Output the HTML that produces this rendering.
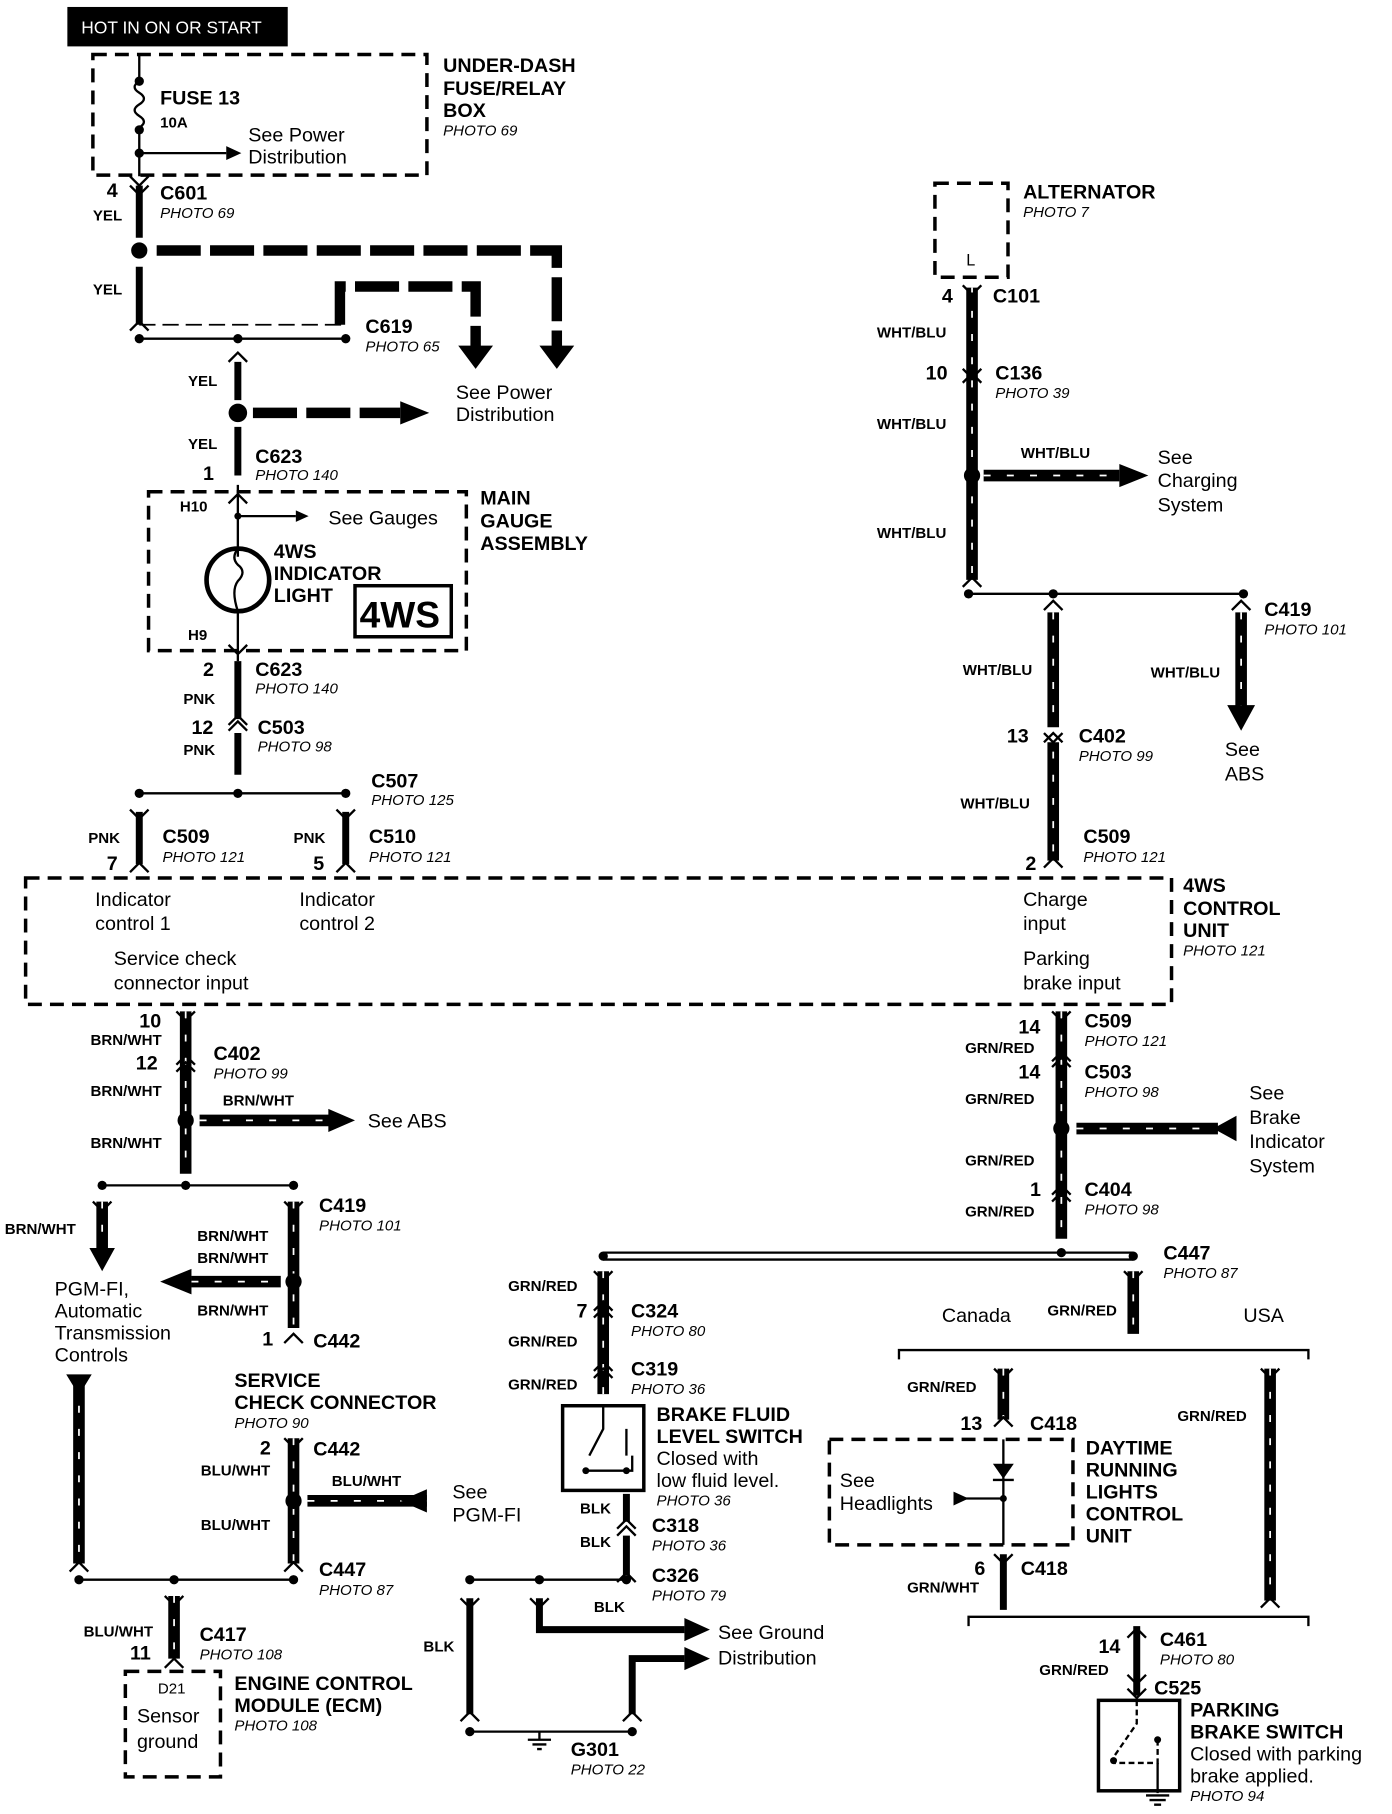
<!DOCTYPE html>
<html><head><meta charset="utf-8"><style>
html,body{margin:0;padding:0;background:#fff}
svg{display:block}
text{font-family:"Liberation Sans",Arial,sans-serif;fill:#000}
.b{font-weight:bold;font-size:17px}
.s{font-weight:bold;font-size:13px}
.p{font-style:italic;font-size:13px}
.n{font-size:17px}
.w{stroke:#000;stroke-width:6;fill:none}
.t{stroke:#000;stroke-width:2;fill:none}
.d{stroke:#000;stroke-width:3;fill:none;stroke-dasharray:12 7}
.dw{stroke:#000;stroke-width:9;fill:none;stroke-dasharray:38 8}
.sh{stroke:#000;stroke-width:10;fill:none}
.hs{stroke:#fff;stroke-width:1.5;fill:none;stroke-dasharray:6 14}
</style></head><body>
<svg width="1392" height="1814" viewBox="0 0 1200 1564" xmlns="http://www.w3.org/2000/svg">
<rect x="58" y="6" width="190" height="34" fill="#000"/>
<text x="70" y="29" style="font-size:15px;fill:#fff">HOT IN ON OR START</text>
<rect x="80" y="47" width="288" height="104" class="d"/>
<path class="t" d="M120 47V70 q-8 5 0 10 q8 5 0 10 q-8 5 0 10 q8 5 0 10V152"/>
<circle cx="120" cy="70" r="4"/><circle cx="120" cy="112" r="4"/><circle cx="120" cy="132" r="4"/>
<path d="M120 132H195" class="t"/><path d="M195 126L208 132L195 138z"/>
<text x="138" y="90" class="b">FUSE 13</text><text x="138" y="110" class="s">10A</text>
<text x="214" y="122" class="n">See Power</text><text x="214" y="141" class="n">Distribution</text>
<text x="382" y="62" class="b">UNDER-DASH</text><text x="382" y="82" class="b">FUSE/RELAY</text><text x="382" y="101" class="b">BOX</text><text x="382" y="117" class="p">PHOTO 69</text>
<path class="w" d="M120 160V205M120 230V280"/>
<path class="t" d="M112 160L120 168L128 160M112 152L120 160L128 152"/>
<circle cx="120" cy="216" r="7"/>
<path class="dw" d="M135 216H480V300M293 280V247H410V300"/>
<path d="M395 298H425L410 318z M465 298H495L480 318z"/>
<path class="t" d="M112 285L120 277L128 285" />
<path d="M120 280H295" stroke="#000" stroke-width="1.5" stroke-dasharray="14 6"/>
<path class="t" d="M120 292H298"/><circle cx="120" cy="292" r="4"/><circle cx="205" cy="292" r="4"/><circle cx="298" cy="292" r="4"/>
<text x="92" y="170" class="b">4</text><text x="80" y="190" class="s">YEL</text>
<text x="138" y="172" class="b">C601</text><text x="138" y="188" class="p">PHOTO 69</text>
<text x="80" y="254" class="s">YEL</text>
<text x="315" y="287" class="b">C619</text><text x="315" y="303" class="p">PHOTO 65</text>
<path class="w" d="M205 312V345M205 368V410"/><path class="t" d="M197 312L205 304L213 312"/>
<circle cx="205" cy="356" r="8"/>
<path class="dw" d="M218 356H345"/><path d="M345 346L370 356L345 366z"/>
<text x="393" y="344" class="n">See Power</text><text x="393" y="363" class="n">Distribution</text>
<text x="162" y="333" class="s">YEL</text><text x="162" y="387" class="s">YEL</text>
<text x="175" y="414" class="b">1</text><text x="220" y="399" class="b">C623</text><text x="220" y="414" class="p">PHOTO 140</text>
<rect x="128" y="424" width="274" height="137" class="d"/>
<path class="t" d="M205 418V480M205 528V570M197 434L205 426L213 434M197 556L205 564L213 556"/>
<circle cx="205" cy="500" r="27" stroke="#000" stroke-width="4" fill="none"/>
<path class="t" d="M205 473q-6 8 0 14q8 6 0 14q-6 8 0 26"/>
<circle cx="205" cy="445" r="3"/><path class="t" d="M205 445H255"/><path d="M255 440L266 445L255 450z"/>
<text x="155" y="441" class="s">H10</text><text x="162" y="552" class="s">H9</text>
<text x="283" y="452" class="n">See Gauges</text>
<text x="236" y="481" class="b">4WS</text><text x="236" y="500" class="b">INDICATOR</text><text x="236" y="519" class="b">LIGHT</text>
<rect x="306" y="505" width="83" height="44" stroke="#000" stroke-width="3" fill="none"/>
<text x="310" y="541" style="font-size:32px;font-weight:bold">4WS</text>
<text x="414" y="435" class="b">MAIN</text><text x="414" y="455" class="b">GAUGE</text><text x="414" y="474" class="b">ASSEMBLY</text>
<path class="w" d="M205 570V620M205 632V668"/><path class="t" d="M197 625L205 617L213 625M197 630L205 622L213 630"/>
<text x="175" y="583" class="b">2</text><text x="220" y="583" class="b">C623</text><text x="220" y="598" class="p">PHOTO 140</text>
<text x="158" y="607" class="s">PNK</text>
<text x="165" y="633" class="b">12</text><text x="222" y="633" class="b">C503</text><text x="222" y="648" class="p">PHOTO 98</text>
<text x="158" y="651" class="s">PNK</text>
<path class="t" d="M120 684H298"/><circle cx="120" cy="684" r="4"/><circle cx="205" cy="684" r="4"/><circle cx="298" cy="684" r="4"/>
<path class="w" d="M120 700V745M298 700V745"/>
<path class="t" d="M112 698L120 706L128 698M290 698L298 706L306 698M112 752L120 744L128 752M290 752L298 744L306 752"/>
<text x="320" y="679" class="b">C507</text><text x="320" y="694" class="p">PHOTO 125</text>
<text x="76" y="727" class="s">PNK</text><text x="92" y="750" class="b">7</text>
<text x="140" y="727" class="b">C509</text><text x="140" y="743" class="p">PHOTO 121</text>
<text x="253" y="727" class="s">PNK</text><text x="270" y="750" class="b">5</text>
<text x="318" y="727" class="b">C510</text><text x="318" y="743" class="p">PHOTO 121</text>
<rect x="22" y="757" width="988" height="109" class="d"/>
<text x="82" y="781" class="n">Indicator</text><text x="82" y="802" class="n">control 1</text>
<text x="258" y="781" class="n">Indicator</text><text x="258" y="802" class="n">control 2</text>
<text x="98" y="832" class="n">Service check</text><text x="98" y="853" class="n">connector input</text>
<text x="882" y="781" class="n">Charge</text><text x="882" y="802" class="n">input</text>
<text x="882" y="832" class="n">Parking</text><text x="882" y="853" class="n">brake input</text>
<text x="1020" y="769" class="b">4WS</text><text x="1020" y="789" class="b">CONTROL</text><text x="1020" y="808" class="b">UNIT</text><text x="1020" y="824" class="p">PHOTO 121</text>
<rect x="806" y="158" width="63" height="81" class="d"/>
<text x="833" y="229" style="font-size:14px">L</text>
<text x="882" y="171" class="b">ALTERNATOR</text><text x="882" y="187" class="p">PHOTO 7</text>
<path class="sh" d="M838 248V500"/><path class="hs" d="M838 248V500"/>
<path class="t" d="M830 246L838 254L846 246M830 318L838 326L846 318M830 330L838 322L846 330M830 506L838 498L846 506"/>
<text x="812" y="261" class="b">4</text><text x="856" y="261" class="b">C101</text>
<text x="756" y="291" class="s">WHT/BLU</text>
<text x="798" y="327" class="b">10</text><text x="858" y="327" class="b">C136</text><text x="858" y="343" class="p">PHOTO 39</text>
<text x="756" y="370" class="s">WHT/BLU</text>
<circle cx="838" cy="410" r="7"/>
<path class="sh" d="M848 410H965"/><path class="hs" d="M848 410H965"/><path d="M965 400L990 410L965 420z"/>
<text x="880" y="395" class="s">WHT/BLU</text>
<text x="998" y="400" class="n">See</text><text x="998" y="420" class="n">Charging</text><text x="998" y="441" class="n">System</text>
<text x="756" y="464" class="s">WHT/BLU</text>
<path class="t" d="M835 512H1073"/><circle cx="835" cy="512" r="4"/><circle cx="908" cy="512" r="4"/><circle cx="1072" cy="512" r="4"/>
<path class="sh" d="M908 528V627M908 640V742M1070 528V610"/><path class="hs" d="M908 528V742M1070 528V610"/>
<path class="t" d="M900 526L908 518L916 526M1062 526L1070 518L1078 526M900 632L908 640L916 632M900 640L908 632L916 640M900 748L908 740L916 748"/>
<path d="M1058 608H1082L1070 630z"/>
<text x="1090" y="531" class="b">C419</text><text x="1090" y="547" class="p">PHOTO 101</text>
<text x="830" y="582" class="s">WHT/BLU</text><text x="992" y="584" class="s">WHT/BLU</text>
<text x="1056" y="652" class="n">See</text><text x="1056" y="673" class="n">ABS</text>
<text x="868" y="640" class="b">13</text><text x="930" y="640" class="b">C402</text><text x="930" y="656" class="p">PHOTO 99</text>
<text x="828" y="697" class="s">WHT/BLU</text>
<text x="884" y="750" class="b">2</text><text x="934" y="727" class="b">C509</text><text x="934" y="743" class="p">PHOTO 121</text>
<path class="sh" d="M160 872V1012"/><path class="hs" d="M160 872V1012"/>
<path class="t" d="M152 872L160 880L168 872M152 918L160 910L168 918M152 924L160 916L168 924"/>
<text x="120" y="886" class="b">10</text><text x="78" y="901" class="s">BRN/WHT</text>
<text x="117" y="922" class="b">12</text><text x="184" y="914" class="b">C402</text><text x="184" y="930" class="p">PHOTO 99</text>
<text x="78" y="945" class="s">BRN/WHT</text>
<circle cx="160" cy="966" r="7"/>
<path class="sh" d="M172 966H285"/><path class="hs" d="M172 966H285"/><path d="M283 956L306 966L283 976z"/>
<text x="192" y="953" class="s">BRN/WHT</text><text x="317" y="972" class="n">See ABS</text>
<text x="78" y="990" class="s">BRN/WHT</text>
<path class="t" d="M88 1022H253"/><circle cx="88" cy="1022" r="4"/><circle cx="160" cy="1022" r="4"/><circle cx="253" cy="1022" r="4"/>
<path class="sh" d="M88 1036V1078M253 1036V1145M253 1240V1348M68 1192V1348"/><path class="hs" d="M88 1036V1078M253 1036V1145M253 1240V1348M68 1192V1348"/>
<path d="M77 1076H99L88 1096z M57 1185H79L68 1203z"/>
<path class="t" d="M80 1036L88 1044L96 1036M245 1036L253 1044L261 1036M245 1158L253 1150L261 1158M245 1240L253 1248L261 1240M245 1355L253 1347L261 1355M60 1355L68 1347L76 1355"/>
<text x="4" y="1064" class="s">BRN/WHT</text>
<text x="275" y="1045" class="b">C419</text><text x="275" y="1061" class="p">PHOTO 101</text>
<text x="170" y="1070" class="s">BRN/WHT</text><text x="170" y="1089" class="s">BRN/WHT</text><text x="170" y="1134" class="s">BRN/WHT</text>
<circle cx="253" cy="1105" r="7"/>
<path class="sh" d="M165 1105H242"/><path class="hs" d="M165 1105H242"/><path d="M165 1094L138 1105L165 1116z"/>
<text x="47" y="1117" class="n">PGM-FI,</text><text x="47" y="1136" class="n">Automatic</text><text x="47" y="1155" class="n">Transmission</text><text x="47" y="1174" class="n">Controls</text>
<text x="226" y="1160" class="b">1</text><text x="270" y="1162" class="b">C442</text>
<text x="202" y="1196" class="b">SERVICE</text><text x="202" y="1215" class="b">CHECK CONNECTOR</text><text x="202" y="1231" class="p">PHOTO 90</text>
<text x="224" y="1254" class="b">2</text><text x="270" y="1255" class="b">C442</text>
<text x="173" y="1272" class="s">BLU/WHT</text>
<circle cx="253" cy="1294" r="7"/>
<path class="sh" d="M265 1294H368"/><path class="hs" d="M265 1294H368"/><path d="M368 1284L345 1294L368 1304z" fill="#000"/>
<text x="286" y="1281" class="s">BLU/WHT</text>
<text x="390" y="1292" class="n">See</text><text x="390" y="1312" class="n">PGM-FI</text>
<text x="173" y="1319" class="s">BLU/WHT</text>
<path class="t" d="M68 1362H253"/><circle cx="68" cy="1362" r="4"/><circle cx="150" cy="1362" r="4"/><circle cx="253" cy="1362" r="4"/>
<text x="275" y="1359" class="b">C447</text><text x="275" y="1375" class="p">PHOTO 87</text>
<path class="sh" d="M150 1376V1430"/><path class="hs" d="M150 1376V1430"/>
<path class="t" d="M142 1376L150 1384L158 1376M142 1438L150 1430L158 1438"/>
<text x="72" y="1411" class="s">BLU/WHT</text><text x="112" y="1431" class="b">11</text>
<text x="172" y="1415" class="b">C417</text><text x="172" y="1431" class="p">PHOTO 108</text>
<rect x="108" y="1441" width="82" height="91" class="d"/>
<text x="136" y="1460" style="font-size:13px">D21</text>
<text x="118" y="1485" class="n">Sensor</text><text x="118" y="1507" class="n">ground</text>
<text x="202" y="1457" class="b">ENGINE CONTROL</text><text x="202" y="1476" class="b">MODULE (ECM)</text><text x="202" y="1492" class="p">PHOTO 108</text>
<path class="sh" d="M915 872V1068"/><path class="hs" d="M915 872V1068"/>
<path class="t" d="M907 872L915 880L923 872M907 915L915 907L923 915M907 920L915 912L923 920M907 1030L915 1022L923 1030M907 1036L915 1028L923 1036"/>
<text x="878" y="891" class="b">14</text><text x="935" y="886" class="b">C509</text><text x="935" y="902" class="p">PHOTO 121</text>
<text x="832" y="908" class="s">GRN/RED</text>
<text x="878" y="930" class="b">14</text><text x="935" y="930" class="b">C503</text><text x="935" y="946" class="p">PHOTO 98</text>
<text x="832" y="952" class="s">GRN/RED</text>
<circle cx="915" cy="973" r="7"/>
<path class="sh" d="M928 973H1050"/><path class="hs" d="M928 973H1050"/><path d="M1066 962L1046 973L1066 984z"/>
<text x="1077" y="948" class="n">See</text><text x="1077" y="969" class="n">Brake</text><text x="1077" y="990" class="n">Indicator</text><text x="1077" y="1011" class="n">System</text>
<text x="832" y="1005" class="s">GRN/RED</text>
<text x="888" y="1031" class="b">1</text><text x="935" y="1031" class="b">C404</text><text x="935" y="1047" class="p">PHOTO 98</text>
<text x="832" y="1049" class="s">GRN/RED</text>
<path class="t" d="M520 1080H977M520 1086H977" /><circle cx="520" cy="1083" r="4"/><circle cx="915" cy="1080" r="4"/><circle cx="977" cy="1083" r="4"/>
<text x="1003" y="1086" class="b">C447</text><text x="1003" y="1102" class="p">PHOTO 87</text>
<path class="sh" d="M520 1096V1202M977 1096V1150"/><path class="hs" d="M520 1096V1202M977 1096V1150"/>
<path class="t" d="M512 1096L520 1104L528 1096M969 1096L977 1104L985 1096M512 1130L520 1122L528 1130M512 1136L520 1128L528 1136M512 1182L520 1174L528 1182M512 1188L520 1180L528 1188"/>
<text x="438" y="1113" class="s">GRN/RED</text>
<text x="497" y="1136" class="b">7</text><text x="544" y="1136" class="b">C324</text><text x="544" y="1152" class="p">PHOTO 80</text>
<text x="438" y="1161" class="s">GRN/RED</text>
<text x="544" y="1186" class="b">C319</text><text x="544" y="1202" class="p">PHOTO 36</text>
<text x="438" y="1198" class="s">GRN/RED</text>
<text x="812" y="1140" class="n">Canada</text><text x="903" y="1134" class="s">GRN/RED</text><text x="1072" y="1140" class="n">USA</text>
<path class="t" d="M775 1172V1164H1128V1172" stroke-width="3"/>
<rect x="485" y="1212" width="70" height="73" stroke="#000" stroke-width="3" fill="none"/>
<path class="t" d="M520 1212V1232L508 1255M505 1268H545V1255M540 1232V1255"/><circle cx="505" cy="1268" r="3"/><circle cx="540" cy="1268" r="3"/>
<text x="566" y="1225" class="b">BRAKE FLUID</text><text x="566" y="1244" class="b">LEVEL SWITCH</text>
<text x="566" y="1263" class="n">Closed with</text><text x="566" y="1282" class="n">low fluid level.</text><text x="566" y="1298" class="p">PHOTO 36</text>
<path class="w" d="M540 1288V1312M540 1324V1358"/>
<path class="t" d="M532 1318L540 1310L548 1318M532 1324L540 1316L548 1324M532 1364L540 1356L548 1364"/>
<text x="500" y="1305" class="s">BLK</text><text x="562" y="1321" class="b">C318</text><text x="562" y="1337" class="p">PHOTO 36</text>
<text x="500" y="1334" class="s">BLK</text>
<path class="t" d="M405 1362H540"/><circle cx="405" cy="1362" r="4"/><circle cx="465" cy="1362" r="4"/><circle cx="540" cy="1362" r="4"/>
<text x="562" y="1364" class="b">C326</text><text x="562" y="1380" class="p">PHOTO 79</text>
<path class="w" d="M405 1378V1478M465 1378V1405H590M545 1478V1430H590"/>
<path d="M590 1395L612 1405L590 1415z M590 1420L612 1430L590 1440z"/>
<path class="t" d="M397 1378L405 1386L413 1378M457 1378L465 1386L473 1378M397 1484L405 1476L413 1484M537 1484L545 1476L553 1484"/>
<text x="512" y="1390" class="s">BLK</text><text x="365" y="1424" class="s">BLK</text>
<text x="619" y="1413" class="n">See Ground</text><text x="619" y="1435" class="n">Distribution</text>
<path class="t" d="M405 1493H545M465 1493V1500"/><circle cx="405" cy="1493" r="4"/><circle cx="545" cy="1493" r="4"/>
<path class="t" d="M455 1500H475M459 1504H471M463 1508H467"/>
<text x="492" y="1514" class="b">G301</text><text x="492" y="1530" class="p">PHOTO 22</text>
<text x="782" y="1200" class="s">GRN/RED</text>
<path class="sh" d="M865 1180V1224M1095 1180V1380"/><path class="hs" d="M865 1180V1224M1095 1180V1380"/>
<path class="t" d="M857 1180L865 1188L873 1180M857 1230L865 1222L873 1230M1087 1180L1095 1188L1103 1180M1087 1386L1095 1378L1103 1386"/>
<text x="1015" y="1225" class="s">GRN/RED</text>
<text x="828" y="1233" class="b">13</text><text x="888" y="1233" class="b">C418</text>
<rect x="715" y="1241" width="210" height="91" class="d"/>
<path class="t" d="M865 1241V1332M822 1292H865"/><path d="M856 1262H874L865 1275z"/><path class="t" d="M856 1276H874"/>
<path d="M822 1286L835 1292L822 1298z"/><circle cx="865" cy="1292" r="3"/>
<text x="724" y="1282" class="n">See</text><text x="724" y="1302" class="n">Headlights</text>
<text x="936" y="1254" class="b">DAYTIME</text><text x="936" y="1273" class="b">RUNNING</text><text x="936" y="1292" class="b">LIGHTS</text><text x="936" y="1311" class="b">CONTROL</text><text x="936" y="1330" class="b">UNIT</text>
<path class="w" d="M865 1340V1388"/><path class="t" d="M857 1340L865 1348L873 1340"/>
<text x="840" y="1358" class="b">6</text><text x="880" y="1358" class="b">C418</text>
<text x="782" y="1373" class="s">GRN/WHT</text>
<path class="t" d="M835 1402V1394H1128V1402" stroke-width="3"/>
<path class="w" d="M980 1402V1462"/>
<path class="t" d="M972 1412L980 1404L988 1412M972 1444L980 1452L988 1444M972 1456L980 1464L988 1456"/>
<text x="947" y="1425" class="b">14</text><text x="1000" y="1419" class="b">C461</text><text x="1000" y="1435" class="p">PHOTO 80</text>
<text x="896" y="1444" class="s">GRN/RED</text><text x="995" y="1461" class="b">C525</text>
<rect x="947" y="1466" width="70" height="78" stroke="#000" stroke-width="3" fill="none"/>
<path class="t" d="M980 1466V1486L960 1515M998 1500V1520H960" stroke-dasharray="5 3"/><circle cx="960" cy="1518" r="3"/><circle cx="998" cy="1500" r="3"/>
<path class="t" d="M998 1520V1546M988 1548H1008M991 1552H1005M995 1556H1001"/>
<text x="1026" y="1480" class="b">PARKING</text><text x="1026" y="1499" class="b">BRAKE SWITCH</text>
<text x="1026" y="1518" class="n">Closed with parking</text><text x="1026" y="1537" class="n">brake applied.</text><text x="1026" y="1553" class="p">PHOTO 94</text>
</svg>
</body></html>
